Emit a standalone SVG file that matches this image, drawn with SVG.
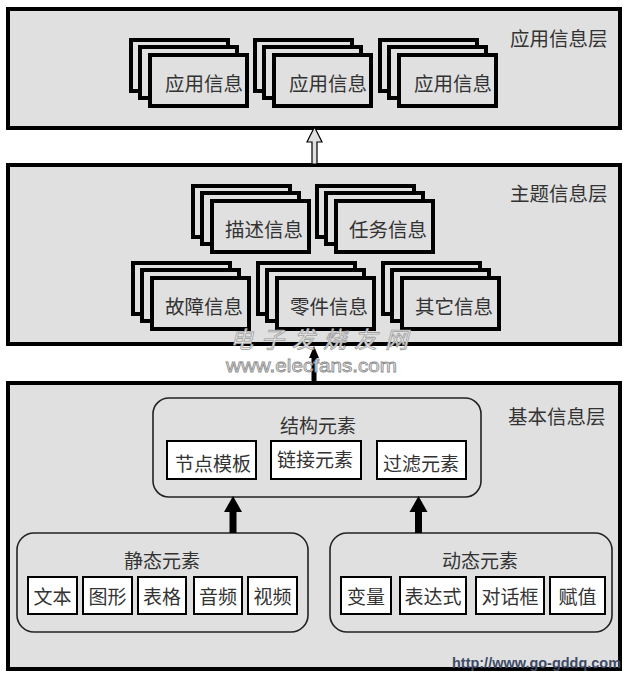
<svg xmlns="http://www.w3.org/2000/svg" width="630" height="677" viewBox="0 0 630 677">
<style>
.layer{fill:#e0e0e0;stroke:#000;stroke-width:4}
.card{fill:#e0e0e0;stroke:#000;stroke-width:4}
.rbox{fill:#e0e0e0;stroke:#222;stroke-width:1.6}
.wbox{fill:#fff;stroke:#000;stroke-width:2}
.t{font-family:"Noto Sans CJK SC","Noto Sans CJK JP",sans-serif;font-size:19.5px;fill:#333}
.s{font-family:"Noto Sans CJK SC","Noto Sans CJK JP",sans-serif;font-size:19px;fill:#333;text-anchor:middle}
.lbl{font-family:"Noto Sans CJK SC","Noto Sans CJK JP",sans-serif;font-size:19.5px;fill:#333}
</style>
<defs>
<g id="stack">
<rect class="card" x="2" y="2" width="97" height="51"/>
<rect class="card" x="11" y="9" width="97" height="51"/>
<rect class="card" x="21" y="17" width="97" height="51"/>
</g>
</defs>
<rect x="0" y="0" width="630" height="677" fill="#fff"/>

<g id="layer-app">
<rect class="layer" x="8" y="9" width="612" height="119"/>
<text class="lbl" x="510" y="46">应用信息层</text>
</g>
<g id="app1"><use href="#stack" x="129" y="38"/><text class="t" x="165" y="91">应用信息</text></g>
<g id="app2"><use href="#stack" x="253" y="38"/><text class="t" x="289" y="91">应用信息</text></g>
<g id="app3"><use href="#stack" x="378" y="38"/><text class="t" x="414" y="91">应用信息</text></g>

<g id="layer-topic">
<rect class="layer" x="8" y="165" width="612" height="179"/>
<text class="lbl" x="510" y="201">主题信息层</text>
</g>
<g id="desc"><use href="#stack" x="191" y="184"/><text class="t" x="225" y="237">描述信息</text></g>
<g id="task"><use href="#stack" x="315" y="184"/><text class="t" x="349" y="237">任务信息</text></g>
<g id="fault"><use href="#stack" x="131" y="261"/><text class="t" x="165" y="314">故障信息</text></g>
<g id="part"><use href="#stack" x="256" y="261"/><text class="t" x="290" y="314">零件信息</text></g>
<g id="other"><use href="#stack" x="381" y="261"/><text class="t" x="415" y="314">其它信息</text></g>

<g id="layer-base">
<rect class="layer" x="8" y="383" width="612" height="286"/>
<text class="lbl" x="508" y="424">基本信息层</text>
</g>

<g id="struct">
<rect class="rbox" x="153" y="398" width="328" height="99" rx="16"/>
<text class="s" x="318" y="433">结构元素</text>
<rect class="wbox" x="167" y="441" width="89" height="38"/>
<text class="s" x="213" y="471">节点模板</text>
<rect class="wbox" x="271" y="441" width="90" height="38"/>
<text class="s" x="315" y="467">链接元素</text>
<rect class="wbox" x="377" y="441" width="89" height="38"/>
<text class="s" x="421" y="471">过滤元素</text>
</g>

<g id="static">
<rect class="rbox" x="17" y="533" width="291" height="99" rx="17"/>
<text class="s" x="162" y="568">静态元素</text>
<rect class="wbox" x="28" y="577" width="49" height="37"/><text class="s" x="52.5" y="604">文本</text>
<rect class="wbox" x="83" y="577" width="49" height="37"/><text class="s" x="107.5" y="604">图形</text>
<rect class="wbox" x="138" y="577" width="48" height="37"/><text class="s" x="162" y="604">表格</text>
<rect class="wbox" x="194" y="577" width="48" height="37"/><text class="s" x="218" y="604">音频</text>
<rect class="wbox" x="248" y="577" width="49" height="37"/><text class="s" x="272.5" y="604">视频</text>
</g>

<g id="dynamic">
<rect class="rbox" x="330" y="533" width="282" height="99" rx="17"/>
<text class="s" x="480" y="568">动态元素</text>
<rect class="wbox" x="341" y="577" width="50" height="37"/><text class="s" x="366" y="604">变量</text>
<rect class="wbox" x="400" y="577" width="66" height="37"/><text class="s" x="433" y="604">表达式</text>
<rect class="wbox" x="476" y="577" width="68" height="37"/><text class="s" x="510" y="604">对话框</text>
<rect class="wbox" x="550" y="577" width="55" height="37"/><text class="s" x="577.5" y="604">赋值</text>
</g>

<g id="connectors">
<path d="M314.5,127 L322,142 L317,142 L317,164 L312,164 L312,142 L307,142 Z" fill="#e0e0e0" stroke="#000" stroke-width="1.2"/>
<path d="M314,346 L319,358 L316.5,358 L316.5,383 L311.5,383 L311.5,358 L309,358 Z" fill="#000"/>
<path d="M233,496 L242,512 L236.5,512 L236.5,533 L229.5,533 L229.5,512 L224,512 Z" fill="#000"/>
<path d="M418.5,496 L427.5,512 L422,512 L422,533 L415,533 L415,512 L409.5,512 Z" fill="#000"/>
</g>

<g id="watermarks">
<text x="230" y="348" font-family="'Noto Sans CJK SC',sans-serif" font-size="23" font-style="italic" letter-spacing="8" fill="#f2f2f2" stroke="#a0a0a0" stroke-width="0.8">电子发烧友网</text>
<text x="226" y="372" font-family="'Liberation Sans',sans-serif" font-size="19" textLength="171" lengthAdjust="spacingAndGlyphs" fill="#f4f4f4" stroke="#8a8a8a" stroke-width="0.8">www.elecfans.com</text>
<text x="452" y="668" font-family="'Liberation Sans',sans-serif" font-size="15" font-weight="bold" textLength="169" lengthAdjust="spacingAndGlyphs" fill="#3d4a66">http://www.go-gddq.com</text>
</g>
</svg>
